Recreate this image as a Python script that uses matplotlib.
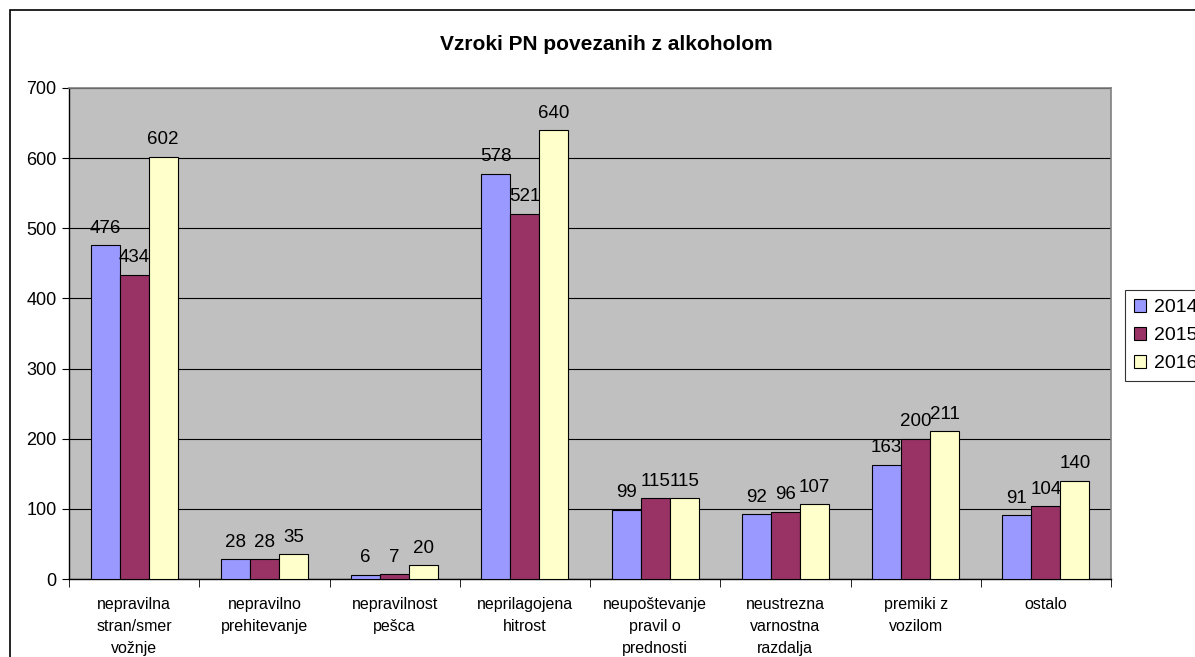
import numpy as np
import matplotlib
matplotlib.use("Agg")
import matplotlib.pyplot as plt
from matplotlib.patches import Rectangle

plt.rcParams['font.family'] = ['Liberation Sans', 'DejaVu Sans']

kategorije = ['nepravilna\nstran/smer\nvožnje', 'nepravilno\nprehitevanje', 'nepravilnost\npešca',
              'neprilagojena\nhitrost', 'neupoštevanje\npravil o\nprednosti',
              'neustrezna\nvarnostna\nrazdalja', 'premiki z\nvozilom', 'ostalo']
leta = ['2014', '2015', '2016']
v2014 = [476, 28, 6, 578, 99, 92, 163, 91]
v2015 = [434, 28, 7, 521, 115, 96, 200, 104]
v2016 = [602, 35, 20, 640, 115, 107, 211, 140]
barve = ['#9999FF', '#993366', '#FFFFCC']

fig = plt.figure(figsize=(11.95, 6.57), dpi=100)
ax = fig.add_axes([69/1195, 1-579/657, (1111-69)/1195, (579-88)/657])
ax.set_facecolor('#C0C0C0')

x = np.arange(len(kategorije))
w = 1/4.5
for i, (vals, leto) in enumerate(zip([v2014, v2015, v2016], leta)):
    bars = ax.bar(x + (i-1)*w, vals, w, color=barve[i], edgecolor='black', linewidth=0.8, label=leto, zorder=3)
    for b, v in zip(bars, vals):
        ax.text(b.get_x()+b.get_width()/2, v+12, str(v), ha='center', va='bottom', fontsize=13.5, zorder=4)

ax.set_xlim(-0.5, len(kategorije)-0.5)
ax.set_ylim(0, 700)
ax.set_yticks(range(0, 701, 100))
ax.yaxis.grid(True, color='black', linewidth=0.8, zorder=0)
ax.set_axisbelow(True)
ax.tick_params(axis='y', labelsize=13, length=5, direction='out', pad=4)
ax.set_xticks(x)
ax.set_xticklabels(kategorije, fontsize=11.5, linespacing=1.6)
ax.tick_params(axis='x', length=0, pad=13)
ax.set_xticks(np.arange(-0.5, len(kategorije)), minor=True)
ax.tick_params(axis='x', which='minor', length=6)
for s in ['top', 'right']:
    ax.spines[s].set_color('#808080')
    ax.spines[s].set_linewidth(1.2)
ax.spines['left'].set_linewidth(1)
ax.spines['bottom'].set_linewidth(1)

fig.text(606/1195, 1-45/657, 'Vzroki PN povezanih z alkoholom', ha='center', va='center', fontsize=15, fontweight='bold')

leg = fig.legend(loc='upper left', bbox_to_anchor=(1125/1195, 1-290/657), fontsize=14, frameon=True,
                 fancybox=False, edgecolor='black', handlelength=0.65, handleheight=0.65,
                 handletextpad=0.4, borderpad=0.45, labelspacing=0.55, borderaxespad=0)
leg.get_frame().set_linewidth(0.8)

fig.patches.append(Rectangle((10/1195, -0.1), 2, 1-10/657+0.1, transform=fig.transFigure,
                             fill=False, edgecolor='black', linewidth=1.2))

plt.savefig('out.png', dpi=100)
